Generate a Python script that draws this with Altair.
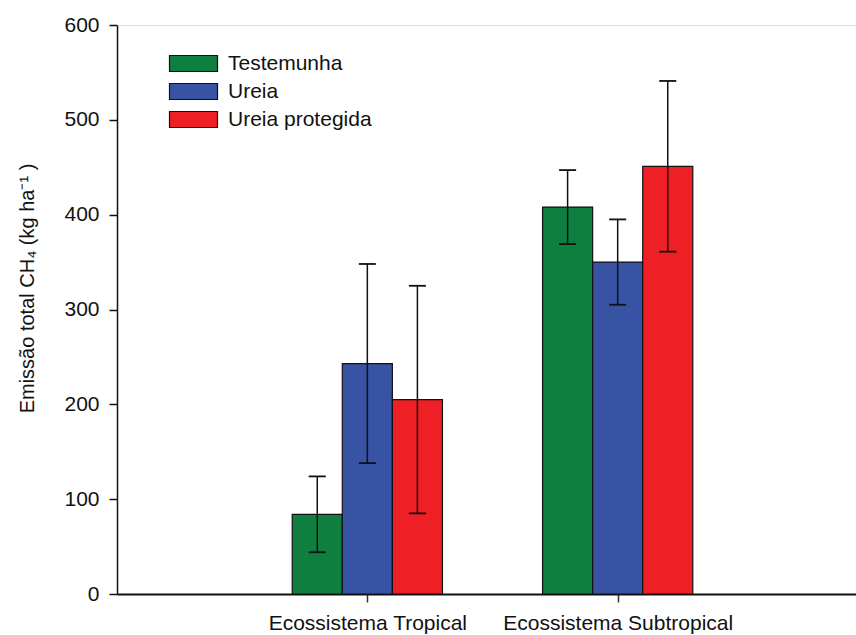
import altair as alt
import pandas as pd

groups = ["Ecossistema Tropical", "Ecossistema Subtropical"]
treatments = ["Testemunha", "Ureia", "Ureia protegida"]
colors = ["#0F7F40", "#3853A4", "#EE1F25"]
# mean values per group (rows) and treatment (columns)
means = [[84, 243, 205], [408, 350, 451]]
errors = [[40, 105, 120], [39, 45, 90]]

rows = []
for gi, g in enumerate(groups):
    for ti, t in enumerate(treatments):
        rows.append({"group": g, "gi": gi + 1, "treatment": t, "ti": ti,
                     "value": means[gi][ti], "err": errors[gi][ti]})
df = pd.DataFrame(rows)

FONT = "Liberation Sans"
BAR = 0.2  # width of one bar in x units

base = alt.Chart(df).transform_calculate(
    pos=f"datum.gi + (datum.ti - 1) * {BAR}",
    x0=f"datum.gi + (datum.ti - 1) * {BAR} - {BAR/2}",
    x1=f"datum.gi + (datum.ti - 1) * {BAR} + {BAR/2}",
    cap0=f"datum.gi + (datum.ti - 1) * {BAR} - 0.034",
    cap1=f"datum.gi + (datum.ti - 1) * {BAR} + 0.034",
    lo="datum.value - datum.err",
    hi="datum.value + datum.err",
    zero="0",
)

xscale = alt.Scale(domain=[0, 2.952], nice=False, zero=False, padding=0)
yscale = alt.Scale(domain=[0, 600], nice=False, padding=0)

label_expr = "datum.value == 1 ? '" + groups[0] + "' : (datum.value == 2 ? '" + groups[1] + "' : '')"

bars = base.mark_bar(stroke="#111111", strokeWidth=1.2, orient="vertical").encode(
    x=alt.X("x0:Q", scale=xscale,
            axis=alt.Axis(values=[1, 2], labelExpr=label_expr, title=None, grid=False,
                          tickSize=8, tickWidth=1.5, tickColor="#333333",
                          domainColor="#111111", domainWidth=2,
                          labelFont=FONT, labelFontSize=21, labelColor="#111111",
                          labelPadding=10, labelFlush=False, labelLimit=0,
                          labelOverlap=False)),
    x2="x1:Q",
    y=alt.Y("value:Q", scale=yscale,
            axis=alt.Axis(values=[0, 100, 200, 300, 400, 500, 600], grid=False,
                          title="Emissão total CH₄ (kg ha⁻¹ )",
                          titleFont=FONT, titleFontSize=20, titleFontWeight="normal",
                          titleColor="#111111", titleX=-84, titleY=263,
                          titleBaseline="alphabetic", titleAngle=270,
                          tickSize=8, tickWidth=1.5, tickColor="#111111",
                          domainColor="#111111", domainWidth=1.5,
                          labelFont=FONT, labelFontSize=21, labelColor="#111111",
                          labelPadding=10)),
    y2="zero:Q",
    color=alt.Color("treatment:N", scale=alt.Scale(domain=treatments, range=colors),
                    legend=alt.Legend(title=None, orient="none", legendX=66, legendY=28,
                                      symbolType="M-3,-1L3,-1L3,1L-3,1Z",
                                      symbolSize=256, symbolStrokeColor="#111111",
                                      symbolStrokeWidth=1.2, symbolOpacity=1,
                                      labelFont=FONT, labelFontSize=21, labelColor="#111111",
                                      labelOffset=24, rowPadding=6, padding=0)),
)

err = base.mark_rule(color="#111111", strokeWidth=1.5).encode(
    x=alt.X("pos:Q", scale=xscale), y=alt.Y("lo:Q", scale=yscale), y2="hi:Q")
cap_hi = base.mark_rule(color="#111111", strokeWidth=1.8).encode(
    x=alt.X("cap0:Q", scale=xscale), x2="cap1:Q", y=alt.Y("hi:Q", scale=yscale))
cap_lo = base.mark_rule(color="#111111", strokeWidth=1.8).encode(
    x=alt.X("cap0:Q", scale=xscale), x2="cap1:Q", y=alt.Y("lo:Q", scale=yscale))

chart = alt.layer(bars, err, cap_hi, cap_lo).properties(
    width=739, height=569,
    autosize=alt.AutoSizeParams(type="none"),
    padding={"left": 117, "top": 25, "right": 0, "bottom": 41},
).configure_view(stroke=None).configure(background="white")

chart.save("out.html", embed_options={"renderer": "svg", "actions": False})
